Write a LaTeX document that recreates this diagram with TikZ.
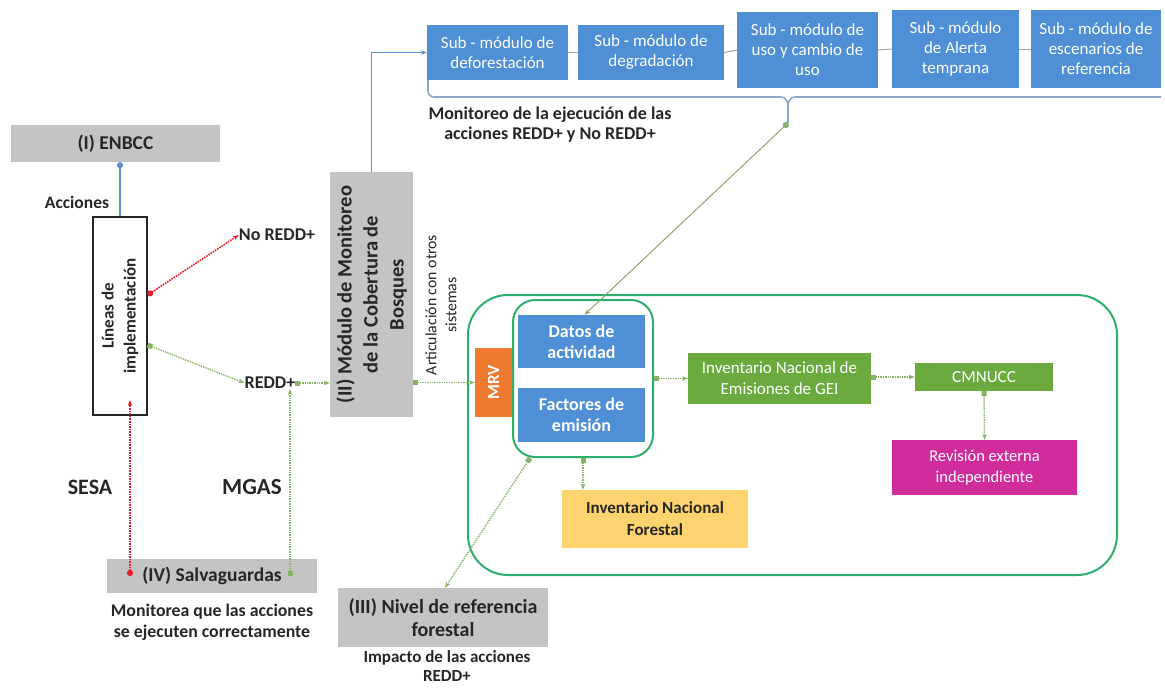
\documentclass[tikz,border=0pt]{standalone}
\usepackage{fontspec}
\setmainfont{Carlito}
\usetikzlibrary{arrows.meta}
\definecolor{bluebox}{HTML}{4E8FD6}
\definecolor{graybox}{HTML}{C4C4C4}
\definecolor{greenbox}{HTML}{6BAA3F}
\definecolor{magbox}{HTML}{D02C9C}
\definecolor{orangebox}{HTML}{EE7B2F}
\definecolor{yellowbox}{HTML}{FFD46F}
\definecolor{frame}{HTML}{2EAE6C}
\definecolor{redline}{HTML}{E41E2B}
\definecolor{greenline}{HTML}{86B464}
\definecolor{blueline}{HTML}{5B8FD0}
\definecolor{bracket}{HTML}{8EA9C8}
\definecolor{txt}{HTML}{262626}
\tikzset{
  sub/.style={fill=bluebox, text=white, align=center, inner sep=0pt, font=\fontsize{17}{20}\selectfont},
  gbox/.style={fill=graybox, text=txt, align=center, inner sep=0pt},
  bluebx/.style={fill=bluebox, text=white, align=center, inner sep=0pt, font=\bfseries\fontsize{18}{21}\selectfont},
  greenbx/.style={fill=greenbox, text=white, align=center, inner sep=0pt},
  lbl/.style={text=txt, align=center, inner sep=0pt},
  reddot/.style={draw=redline, densely dotted, line width=1.6pt, {Circle[length=6pt,fill=redline]}-{Stealth[length=6pt]}},
  grndot/.style={draw=greenline, densely dotted, line width=1.4pt, {Square[length=5pt,fill=greenline]}-{Stealth[length=6pt]}},
  grnline/.style={draw=greenline!80!gray, line width=1pt, {Circle[length=6pt,fill=greenline]}-{Stealth[length=6pt]}},
  linkline/.style={draw=gray!70, line width=1pt},
}
\begin{document}
\begin{tikzpicture}[x=1pt,y=-1pt]
\useasboundingbox (0,0) rectangle (1165,688);
% top sub-modules
\node[sub, minimum width=141pt, minimum height=55pt] (s1) at (497.5,52.5) {Sub - módulo de\\deforestación};
\node[sub, minimum width=146pt, minimum height=55pt] (s2) at (651,52.5) {Sub - módulo de\\degradación};
\node[sub, minimum width=141pt, minimum height=76pt] (s3) at (807.5,50) {Sub - módulo de\\uso y cambio de\\uso};
\node[sub, minimum width=127pt, minimum height=78pt] (s4) at (955.5,49) {Sub - módulo\\de Alerta\\temprana};
\node[sub, minimum width=130pt, minimum height=78pt] (s5) at (1096,49) {Sub - módulo de\\escenarios de\\referencia};
\draw[linkline] (s1.east) -- (s2.west);
\draw[linkline] (s2.east) -- (s3.west);
\draw[linkline] (s3.east) -- (s4.west);
\draw[linkline] (s4.east) -- (s5.west);
% bracket
\coordinate (brk) at (788,123);
\draw[bracket, line width=1.6pt] (428,80) -- (428,91) to[out=-90,in=180] (434,97) -- (781,97) to[out=0,in=90] (788,106) -- (brk);
\draw[bracket, line width=1.6pt] (788,106) to[out=90,in=180] (795,97) -- (1161,97);
\node[lbl, font=\bfseries\fontsize{18}{20}\selectfont] (monit) at (550,125) {Monitoreo de la ejecución de las\\acciones REDD+ y No REDD+};
% left part
\node[gbox, minimum width=209pt, minimum height=37pt, font=\bfseries\fontsize{19.5}{22}\selectfont] (enbcc) at (115.5,143.5) {(I) ENBCC};
\node[draw=txt, line width=1.2pt, fill=white, minimum width=54pt, minimum height=198pt, inner sep=0pt] (lin) at (120,316) {};
\node[lbl, rotate=90, font=\bfseries\fontsize{17}{22}\selectfont] (lintxt) at (lin.center) {Líneas de\\implementación};
\draw[draw=blueline, line width=2pt, {Circle[length=6pt,fill=blueline]}-] (lin.north |- enbcc.south) -- (lin.north);
\node[lbl, font=\bfseries\fontsize{17.5}{20}\selectfont] (acc) at (77,202) {Acciones};
\node[lbl, font=\bfseries\fontsize{18}{20}\selectfont] (noredd) at (277,235) {No REDD+};
\node[lbl, font=\bfseries\fontsize{18}{20}\selectfont] (redd) at (270,383) {REDD+};
\draw[reddot] ([yshift=21pt]lin.east) -- (noredd.west);
\draw[grndot] ([yshift=-29pt]lin.east) -- (redd.west);
% modulo II
\node[gbox, minimum width=83pt, minimum height=245pt] (mod) at (371.5,294.5) {};
\node[lbl, rotate=90, font=\bfseries\fontsize{20.5}{26}\selectfont] (modtxt) at (mod.center) {(II) Módulo de Monitoreo\\de la Cobertura de\\Bosques};
\draw[grndot] (redd.east) -- (redd.east -| mod.west);
\draw[draw=blueline, line width=1.6pt, -{Stealth[length=6pt]}] (mod.north) |- (s1.west);
\node[lbl, rotate=90, font=\fontsize{15.8}{20}\selectfont] (artic) at (441,305) {Articulación con otros\\sistemas};
% big frame
\node[draw=frame, line width=2pt, rounded corners=40pt, minimum width=649pt, minimum height=280pt] (big) at (792.5,435) {};
\node[draw=frame, line width=2pt, rounded corners=22pt, minimum width=140pt, minimum height=157pt] (inner) at (583,378.5) {};
\node[fill=orangebox, minimum width=37pt, minimum height=69pt, inner sep=0pt] (mrv) at (493.5,382.5) {};
\node[lbl, text=white, rotate=90, font=\bfseries\fontsize{17}{20}\selectfont] (mrvtxt) at (mrv.center) {MRV};
\draw[grndot] (mod.east |- mrv.west) -- (mrv.west);
\node[bluebx, minimum width=127pt, minimum height=53pt] (datos) at (581.5,341.5) {Datos de\\actividad};
\node[bluebx, minimum width=127pt, minimum height=54pt] (fact) at (581.5,415) {Factores de\\emisión};
\node[greenbx, minimum width=183pt, minimum height=51pt, font=\fontsize{17}{21}\selectfont] (ineg) at (779.5,378.5) {Inventario Nacional de\\Emisiones de GEI};
\node[greenbx, minimum width=138pt, minimum height=28pt, font=\fontsize{17}{20}\selectfont] (cmn) at (984,377) {CMNUCC};
\node[fill=magbox, text=white, align=center, inner sep=0pt, minimum width=185pt, minimum height=55pt, font=\fontsize{16.5}{21}\selectfont] (rev) at (984.5,467.5) {Revisión externa\\independiente};
\node[fill=yellowbox, text=txt, align=center, inner sep=0pt, minimum width=186pt, minimum height=58pt, font=\bfseries\fontsize{17}{22}\selectfont] (inf) at (655,519) {Inventario Nacional\\Forestal};
\draw[grndot] (inner.east) -- (inner.east -| ineg.west);
\draw[grndot] (ineg.east |- cmn.west) -- (cmn.west);
\draw[grndot] (cmn.south) -- (rev.north);
\draw[grndot] (inner.south) -- (inner.south |- inf.north);
\draw[grnline] (brk) -- ([xshift=3pt]datos.north);
% bottom
\node[gbox, minimum width=210pt, minimum height=59pt, font=\bfseries\fontsize{20}{23}\selectfont] (nivel) at (443,617.5) {(III) Nivel de referencia\\forestal};
\node[lbl, font=\bfseries\fontsize{17}{19.5}\selectfont] (impact) at (447,666) {Impacto de las acciones\\REDD+};
\draw[grndot] ([xshift=-53pt]inner.south) -- ([xshift=2pt]nivel.north);
\node[gbox, minimum width=210pt, minimum height=34pt, font=\bfseries\fontsize{19.5}{22}\selectfont] (salv) at (212,576) {(IV) Salvaguardas};
\node[lbl, font=\bfseries\fontsize{17.8}{21}\selectfont] (monit2) at (212,622.5) {Monitorea que las acciones\\se ejecuten correctamente};
\coordinate (sesaEnd) at (130,400);
\draw[reddot] ([xshift=-82pt]salv.center) -- (sesaEnd);
\draw[grndot] ([xshift=78pt]salv.center) -- ([xshift=78pt]salv.center |- redd.south);
\node[lbl, font=\bfseries\fontsize{22}{24}\selectfont] (sesa) at (90,487) {SESA};
\node[lbl, font=\bfseries\fontsize{23}{25}\selectfont] (mgas) at (252,487) {MGAS};
\end{tikzpicture}
\end{document}
